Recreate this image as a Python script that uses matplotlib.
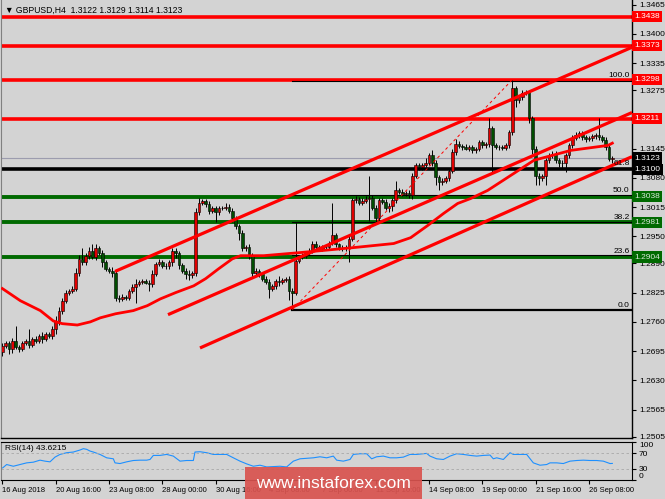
import numpy as np
import matplotlib
matplotlib.use("Agg")
import matplotlib.pyplot as plt
import matplotlib.transforms as mtransforms
from matplotlib.patches import Rectangle

# ---- GBPUSD H4 closes (one per bar) ----
closes = [
    1.2707, 1.2713, 1.2700, 1.2718, 1.2704, 1.2700, 1.2713, 1.2718, 1.2709, 1.2722, 1.2718, 1.2729, 1.2722, 1.2733, 1.2729, 1.2745,
    1.2762, 1.2785, 1.2807, 1.2825, 1.2829, 1.2834, 1.2869, 1.2900, 1.2892, 1.2907, 1.2918, 1.2905, 1.2923, 1.2914, 1.2892, 1.2878,
    1.2874, 1.2869, 1.2814, 1.2811, 1.2816, 1.2814, 1.2829, 1.2838, 1.2845, 1.2849, 1.2851, 1.2847, 1.2843, 1.2867, 1.2889, 1.2892,
    1.2885, 1.2883, 1.2892, 1.2918, 1.2912, 1.2887, 1.2874, 1.2867, 1.2864, 1.2869, 1.3003, 1.3025, 1.3028, 1.3021, 1.3007, 1.3012,
    1.3003, 1.3012, 1.3014, 1.3016, 1.3007, 1.2990, 1.2972, 1.2958, 1.2923, 1.2927, 1.2907, 1.2869, 1.2874, 1.2866, 1.2856, 1.2849,
    1.2834, 1.2840, 1.2851, 1.2848, 1.2853, 1.2856, 1.2829, 1.2825, 1.2896, 1.2903, 1.2907, 1.2914, 1.2918, 1.2934, 1.2927, 1.2922,
    1.2926, 1.2927, 1.2936, 1.2952, 1.2932, 1.2925, 1.2923, 1.2925, 1.2945, 1.3030, 1.3034, 1.3025, 1.3029, 1.3034, 1.3036, 1.3014,
    1.2990, 1.3030, 1.3027, 1.3014, 1.3018, 1.3030, 1.3052, 1.3049, 1.3045, 1.3047, 1.3041, 1.3085, 1.3108, 1.3103, 1.3108, 1.3114,
    1.3130, 1.3114, 1.3081, 1.3070, 1.3074, 1.3079, 1.3096, 1.3137, 1.3156, 1.3151, 1.3148, 1.3145, 1.3148, 1.3141, 1.3145, 1.3159,
    1.3152, 1.3155, 1.3190, 1.3152, 1.3149, 1.3148, 1.3146, 1.3152, 1.3181, 1.3279, 1.3252, 1.3259, 1.3268, 1.3270, 1.3212, 1.3145,
    1.3085, 1.3079, 1.3083, 1.3119, 1.3130, 1.3134, 1.3119, 1.3114, 1.3112, 1.3130, 1.3152, 1.3168, 1.3174, 1.3179, 1.3170, 1.3166,
    1.3168, 1.3172, 1.3174, 1.3170, 1.3165, 1.3148, 1.3122, 1.3123,
]
first_open = 1.2692

# wick lengths in pips above / below the body
wick_up = [
    5, 4, 4, 6, 33, 5, 4, 5, 27, 4, 6, 5, 8, 4, 5, 6,
    10, 8, 6, 5, 4, 6, 10, 8, 25, 5, 8, 16, 10, 5, 6, 5,
    4, 8, 6, 6, 5, 4, 5, 6, 11, 5, 4, 5, 6, 8, 5, 8,
    5, 6, 5, 7, 7, 6, 4, 5, 8, 5, 9, 11, 6, 5, 8, 5,
    6, 5, 4, 8, 5, 6, 5, 6, 5, 4, 6, 6, 5, 4, 5, 6,
    6, 5, 4, 10, 5, 4, 6, 6, 85, 5, 6, 4, 5, 6, 5, 4,
    5, 6, 4, 73, 5, 4, 5, 6, 6, 6, 5, 4, 6, 5, 49, 5,
    6, 5, 6, 5, 6, 6, 22, 5, 6, 4, 5, 6, 6, 5, 5, 10,
    6, 11, 6, 6, 5, 4, 5, 6, 10, 5, 4, 6, 5, 5, 4, 6,
    5, 5, 22, 6, 5, 4, 5, 6, 6, 19, 6, 5, 6, 5, 6, 6,
    6, 6, 5, 6, 5, 6, 5, 6, 6, 6, 5, 6, 8, 5, 5, 6,
    5, 6, 5, 38, 5, 6, 5, 6,
]
wick_dn = [
    8, 5, 12, 10, 5, 6, 4, 5, 6, 5, 4, 6, 10, 5, 4, 6,
    12, 10, 8, 5, 6, 4, 6, 8, 6, 5, 8, 6, 8, 5, 10, 6,
    5, 10, 8, 6, 5, 5, 6, 5, 36, 5, 6, 4, 14, 6, 5, 6,
    5, 6, 5, 8, 10, 10, 6, 11, 10, 6, 7, 6, 5, 6, 8, 5,
    22, 5, 4, 6, 5, 8, 6, 17, 5, 6, 8, 12, 5, 6, 5, 6,
    20, 5, 6, 8, 5, 4, 20, 38, 6, 5, 4, 6, 5, 5, 6, 5,
    4, 5, 6, 6, 6, 5, 6, 5, 31, 6, 5, 6, 5, 4, 51, 5,
    8, 5, 6, 5, 10, 12, 6, 5, 6, 5, 6, 8, 6, 5, 6, 5,
    6, 8, 18, 18, 5, 6, 5, 6, 6, 5, 6, 4, 5, 6, 5, 5,
    6, 5, 6, 60, 5, 6, 5, 4, 6, 6, 15, 5, 6, 5, 10, 12,
    20, 16, 5, 18, 5, 6, 5, 10, 12, 18, 5, 6, 5, 6, 5, 6,
    5, 6, 5, 6, 5, 6, 5, 8,
]

# moving average (red curve), read at points along it
ma_bars = [0, 5.4, 11.4, 15.3, 18, 22.5, 26.4, 29.4, 34, 39.3, 43.5, 47.4, 52, 57.4, 61, 64.9, 69,
           71.5, 78.4, 89.5, 105.4, 117.4, 122.5, 127.6, 132.4, 136.6, 140.5, 145.6, 153.5, 159.5,
           170.6, 181.7, 183]
ma_vals = [1.2834, 1.2807, 1.2785, 1.2762, 1.2756, 1.2753, 1.2760, 1.2769, 1.2778, 1.2785, 1.2796,
           1.2811, 1.2825, 1.2840, 1.2856, 1.2878, 1.2900, 1.2907, 1.2907, 1.2914, 1.2925, 1.2934,
           1.2947, 1.2974, 1.3001, 1.3023, 1.3034, 1.3052, 1.3090, 1.3119, 1.3141, 1.3152, 1.3157]

# RSI(14)
rsi_bars = [0.1, 1.3, 3.3, 5.3, 7.3, 9.3, 11.3, 12.8, 14.3, 15.8, 17.3, 19.3, 21.3, 23.3, 24.3, 25.3,
            26.3, 27.3, 29.3, 31.3, 33.3, 33.8, 35.3, 37.3, 39.3, 41.3, 43.3, 44.3, 45.3, 47.3, 49.3,
            51.3, 53.3, 55.3, 57.3, 57.8, 59.3, 61.3, 63.3, 67.3, 69.3, 71.3, 73.3, 75.3, 77.3, 79.3,
            83.3, 85.3, 87.3, 89.3, 93.3, 95.3, 97.3, 99.3, 100.3, 102.3, 104.3, 105.3, 107.3, 109.3,
            110.8, 112.3, 114.3, 116.3, 118.3, 120.3, 122.3, 124.3, 127.3, 128.3, 130.3, 132.3, 134.3,
            136.3, 138.3, 140.3, 142.3, 144.3, 146.3, 147.3, 148.3, 150.3, 152.3, 153.3, 157.3, 159.3,
            161.3, 163.3, 164.3, 166.3, 168.3, 170.3, 172.3, 174.3, 176.3, 178.3, 180.3, 182.3, 183]
rsi_vals = [31.8, 40.7, 36.2, 40.7, 45.1, 46.9, 52.2, 49.6, 47.8, 60.2, 67.3, 71.8, 73.6, 78.9, 82.4, 80.7,
            76.2, 73.6, 67.3, 58.4, 55.8, 45.1, 43.3, 47.8, 51.3, 52.2, 52.2, 54.0, 64.7, 64.7, 67.3,
            62.9, 49.6, 51.3, 51.3, 73.6, 74.4, 71.8, 67.3, 67.3, 58.4, 49.6, 42.4, 36.2, 38.9, 34.4,
            36.2, 34.4, 49.6, 55.8, 58.4, 61.1, 58.4, 62.9, 52.2, 49.6, 54.0, 67.3, 69.1, 69.1,
            55.8, 61.1, 62.9, 58.4, 58.4, 60.2, 67.3, 67.3, 70.0, 62.9, 55.8, 54.0, 62.9,
            69.1, 67.3, 64.7, 62.9, 64.7, 65.6, 55.8, 58.4, 54.0, 71.8, 67.3, 67.3, 45.1,
            38.9, 40.7, 45.1, 45.1, 43.3, 49.6, 51.3, 52.2, 51.3, 51.3, 49.6, 43.3, 43.6]

# horizontal levels
levels_red = [1.3438, 1.3373, 1.3298, 1.3211]
level_black = 1.3100
levels_green = [1.3038, 1.2981, 1.2904]
last_price = 1.3123

# fibonacci retracement
fib_start = 87
fib_low, fib_high = 1.2787, 1.3298
fib_ratios = [0.0, 23.6, 38.2, 50.0, 61.8, 100.0]

# trend channel lines (bar, price) -> (bar, price)
channels = [((33.8, 1.2872), (188.9, 1.3370)),
            ((49.7, 1.2776), (188.9, 1.3225)),
            ((59.3, 1.2702), (188.9, 1.3127))]
fib_trend = ((87, 1.2787), (153, 1.3298))

price_ticks = [1.3465, 1.3400, 1.3335, 1.3275, 1.3145, 1.3080, 1.3015, 1.2950, 1.2890,
               1.2825, 1.2760, 1.2695, 1.2630, 1.2565, 1.2505]
time_ticks = [0, 16, 32, 48, 64, 80, 96, 112, 128, 144, 160, 176]
time_labels = ["16 Aug 2018", "20 Aug 16:00", "23 Aug 08:00", "28 Aug 00:00", "30 Aug 16:00",
               "4 Sep 08:00", "7 Sep 00:00", "11 Sep 16:00", "14 Sep 08:00", "19 Sep 00:00",
               "21 Sep 16:00", "26 Sep 08:00"]

plt.rcParams['font.family'] = ['Liberation Sans', 'DejaVu Sans']
BG = '#d3d3d3'
GREEN = '#006a00'

fig = plt.figure(figsize=(6.65, 4.99), dpi=100, facecolor=BG)
ax = fig.add_axes([1 / 665, 1 - 438 / 499, 631 / 665, 438 / 499], facecolor=BG)
rx = fig.add_axes([1 / 665, 1 - 480 / 499, 631 / 665, 38 / 499], facecolor=BG)

# candles
c = np.array(closes)
o = np.array([first_open] + closes[:-1])
hi = np.maximum(o, c) + np.array(wick_up) * 1e-4
lo = np.minimum(o, c) - np.array(wick_dn) * 1e-4
x = np.arange(len(c))
up = c >= o
ax.vlines(x, lo, hi, color='black', lw=0.7, zorder=2)
ax.bar(x, np.abs(c - o), bottom=np.minimum(o, c), width=0.72,
       color=np.where(up, '#e00000', '#004d00'), edgecolor='black', linewidth=0.4, zorder=2.1)

# levels
for lv in levels_red:
    ax.axhline(lv, color='red', lw=2.6, zorder=1)
ax.axhline(level_black, color='black', lw=2.6, zorder=1)
for lv in levels_green:
    ax.axhline(lv, color=GREEN, lw=2.8, zorder=1)
ax.axhline(last_price, color='#9c9cae', lw=0.8, zorder=1)

# fibonacci
rng = fib_high - fib_low
for r in fib_ratios:
    lv = fib_low + rng * r / 100
    ax.plot([fib_start, 188.9], [lv - 0.00025 if r == 100 else lv] * 2, color='black',
            lw=1.6 if r == 0 else 0.8, zorder=1.5)
    ax.text(188.2, lv + 0.0002, "%.1f" % r, ha='right', va='bottom', fontsize=6, zorder=5)
ax.plot([fib_trend[0][0], fib_trend[1][0]], [fib_trend[0][1], fib_trend[1][1]],
        color='red', lw=0.7, ls=(0, (3, 3)), zorder=3)

# channels and MA
for (b0, p0), (b1, p1) in channels:
    ax.plot([b0, b1], [p0, p1], color='red', lw=2.3, zorder=3, solid_capstyle='butt')
ax.plot(ma_bars, ma_vals, color='red', lw=2.0, zorder=3)

ax.set_xlim(-0.4, 188.9)
ax.set_ylim(1.2502, 1.3475)
ax.yaxis.tick_right()
ax.set_yticks(price_ticks)
ax.set_yticklabels(["%.4f" % t for t in price_ticks])
ax.tick_params(axis='y', length=3, width=0.8, labelsize=6, pad=2)
ax.set_xticks([])
ax.spines['top'].set_visible(False)
ax.spines['left'].set_color('#808080')
ax.spines['right'].set_linewidth(1.0)
ax.spines['bottom'].set_linewidth(1.0)

# price label boxes on the scale
tr = mtransforms.blended_transform_factory(ax.transAxes, ax.transData)
boxes = [(lv, lv, 'red', 'white') for lv in levels_red] + \
        [(lv, lv, GREEN, '#d8e8d8') for lv in levels_green] + \
        [(last_price + 0.0001, last_price, 'black', 'white'),
         (level_black - 0.0002, level_black, 'black', 'white')]
for ypos, val, fc, tc in boxes:
    ax.text(1.004, ypos, "%.4f" % val, transform=tr, ha='left', va='center', fontsize=6,
            color=tc, zorder=6, bbox=dict(boxstyle='square,pad=0.25', fc=fc, ec='none'))

ax.text(0.006, 0.987, "\u25bc GBPUSD,H4  1.3122 1.3129 1.3114 1.3123", transform=ax.transAxes,
        ha='left', va='top', fontsize=6.2)

# RSI panel
rx.plot(rsi_bars, rsi_vals, color='#1e90ff', lw=0.8)
for lv in [30, 70]:
    rx.axhline(lv, color='#a8a8a8', lw=0.6, ls=(0, (3, 3)))
rx.set_xlim(-0.4, 188.9)
rx.set_ylim(0, 100)
rx.yaxis.tick_right()
rx.set_yticks([0, 30, 70, 100])
rx.set_yticklabels(['0', '30', '70', '100'])
rx.tick_params(axis='y', length=3, labelsize=6, pad=2)
ylabs = rx.get_yticklabels()
ylabs[0].set_va('bottom')
ylabs[3].set_va('top')
rx.set_xticks(time_ticks)
rx.set_xticklabels(time_labels, ha='left')
rx.tick_params(axis='x', length=3, labelsize=5.5, pad=2)
rx.spines['left'].set_color('#808080')
rx.text(0.006, 0.93, "RSI(14) 43.6215", transform=rx.transAxes, ha='left', va='top', fontsize=6)

# watermark
fig.patches.append(Rectangle((245 / 665, 0), 177 / 665, 32 / 499, transform=fig.transFigure,
                             fc='#d9534f', alpha=0.92, ec='none', zorder=10))
fig.text(333 / 665, 15 / 499, "www.instaforex.com", ha='center', va='center', color='white',
         fontsize=12.5, zorder=11)

fig.savefig("out.png", dpi=100, facecolor=BG)
